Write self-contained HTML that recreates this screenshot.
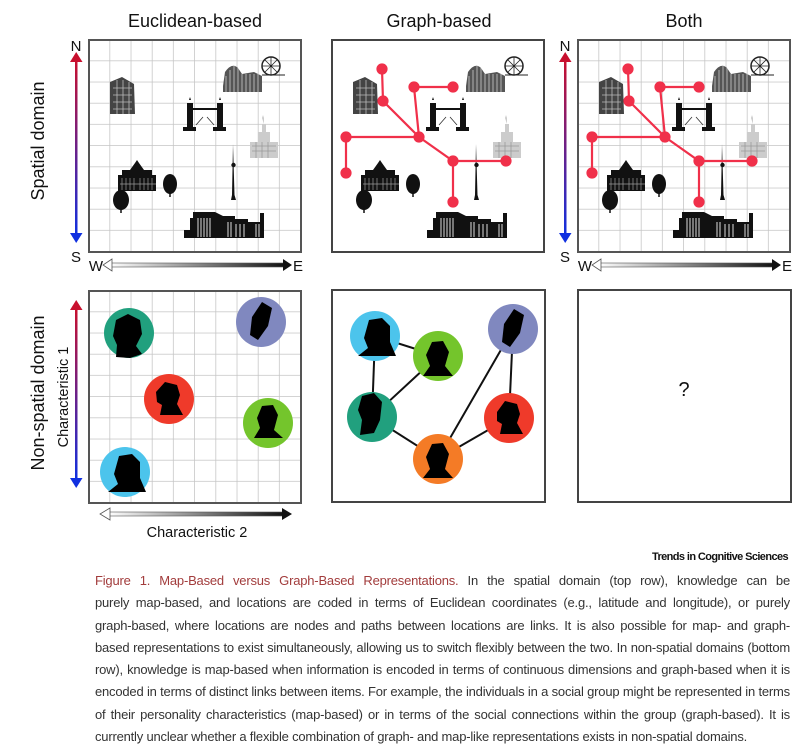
<!DOCTYPE html>
<html><head><meta charset="utf-8"><style>
html,body{margin:0;padding:0;background:#fff;width:798px;height:739px;overflow:hidden}
svg{position:absolute;left:0;top:0}
.cap{position:absolute;left:95px;top:570px;width:695px;font-family:"Liberation Sans",sans-serif;font-size:13px;letter-spacing:-0.2px;line-height:22.3px;color:#333;white-space:nowrap}
.cap div{text-align:justify;text-align-last:justify;width:695px;overflow:hidden}
.cap div.l{text-align-last:left}
.cap span{color:#a23c3c}
</style></head><body>
<svg width="798" height="739" viewBox="0 0 798 739" font-family="Liberation Sans, sans-serif">
<defs>
<pattern id="grid1" width="21.2" height="21.2" patternUnits="userSpaceOnUse" patternTransform="translate(89,40)">
<path d="M21.2 0V21.2M0 21.2H21.2" fill="none" stroke="#c4c4c4" stroke-width="1.5"/>
</pattern>
<pattern id="grid3" width="21.2" height="21.2" patternUnits="userSpaceOnUse" patternTransform="translate(578,40)">
<path d="M21.2 0V21.2M0 21.2H21.2" fill="none" stroke="#c4c4c4" stroke-width="1.5"/>
</pattern>
<pattern id="grid4" width="21.2" height="21.2" patternUnits="userSpaceOnUse" patternTransform="translate(89,291)">
<path d="M21.2 0V21.2M0 21.2H21.2" fill="none" stroke="#c4c4c4" stroke-width="1.5"/>
</pattern>
<linearGradient id="ns" x1="0" y1="0" x2="0" y2="1"><stop offset="0" stop-color="#c8102e"/><stop offset="1" stop-color="#1030e0"/></linearGradient>
<linearGradient id="we" x1="0" y1="0" x2="1" y2="0"><stop offset="0" stop-color="#fff"/><stop offset="1" stop-color="#111"/></linearGradient>
<g id="city">
<path d="M110 82 L122 77 L134 84 L135 114 L110 114Z" fill="#444"/>
<path d="M113 88H132M113 95H132M113 102H132M113 109H132M117 80V114M123 80V114M129 82V114" stroke="#bbb" stroke-width="0.8"/>
<path d="M223 86 L225 72 Q232 62 238 68 L242 74 L254 72 L262 76 L262 92 L223 92Z" fill="#555"/>
<path d="M226 76V92M230 70V92M234 66V92M238 68V92M242 74V92M246 74V92M250 74V92M254 74V92M258 74V92" stroke="#ccc" stroke-width="0.8"/>
<circle cx="271" cy="66" r="9" fill="none" stroke="#222" stroke-width="1.5"/>
<path d="M271 57V75M262 66H280M265 60L277 72M277 60L265 72" stroke="#222" stroke-width="0.8"/>
<path d="M262 75H285" stroke="#222" stroke-width="1"/>
<path d="M187 103h6v24h3v4h-13v-4h4z" fill="#111"/>
<path d="M217 103h6v24h3v4h-13v-4h4z" fill="#111"/>
<path d="M189 100l1-3 1 3zM219 100l1-3 1 3z" fill="#111"/>
<path d="M193 109H217" stroke="#111" stroke-width="2"/>
<path d="M196 125L203 117M214 125L207 117" stroke="#333" stroke-width="0.8"/>
<path d="M262 118l1 -3 1 3v6h2v8h4v10h8v16h-28v-16h8v-10h4v-8h2z" fill="#ccc"/>
<path d="M252 146h24M252 151h24M256 142v16M262 142v16M268 142v16" stroke="#999" stroke-width="0.8"/>
<path d="M233 144L234.5 195L236 200H231L232 195Z" fill="#111"/>
<circle cx="233.5" cy="165" r="2.2" fill="#111"/>
<path d="M118 175h4v-5h8l5-7 2-3 2 3 5 7h8v5h4v16h-38z" fill="#111"/>
<path d="M122 178v12M126 178v12M130 178v12M134 178v12M140 178v12M144 178v12M148 178v12M152 178v12M120 184h36" stroke="#999" stroke-width="0.7"/>
<ellipse cx="121" cy="200" rx="8" ry="10" fill="#111"/><path d="M121 205v8" stroke="#111" stroke-width="1.5"/>
<ellipse cx="170" cy="184" rx="7" ry="10" fill="#111"/><path d="M170 190v7" stroke="#111" stroke-width="1.5"/>
<path d="M184 230h6v-12h3v-6h22l8 4h12v3h13v3h12v-9h4v25h-80z" fill="#111"/>
<path d="M198 218v19M201 218v19M204 218v19M207 218v19M210 218v19M228 222v15M231 222v15M236 224v13M240 224v13M244 224v13M256 224v13M259 224v13" stroke="#ddd" stroke-width="1"/>
</g>
</defs>

<text x="195" y="27" font-size="18" text-anchor="middle" fill="#111">Euclidean-based</text>
<text x="439" y="27" font-size="18" text-anchor="middle" fill="#111">Graph-based</text>
<text x="684" y="27" font-size="18" text-anchor="middle" fill="#111">Both</text>
<text transform="translate(44,141) rotate(-90)" font-size="18" text-anchor="middle" fill="#111">Spatial domain</text>
<text transform="translate(44,393) rotate(-90)" font-size="18" text-anchor="middle" fill="#111">Non-spatial domain</text>

<rect x="89" y="40" width="212" height="212" fill="url(#grid1)"/>
<rect x="89" y="40" width="212" height="212" fill="none" stroke="#555" stroke-width="2"/>
<use href="#city"/>
<rect x="332" y="40" width="212" height="212" fill="#fff" stroke="#444" stroke-width="2"/>
<use href="#city" transform="translate(243,0)"/>
<rect x="578" y="40" width="212" height="212" fill="url(#grid3)"/>
<rect x="578" y="40" width="212" height="212" fill="none" stroke="#555" stroke-width="2"/>
<use href="#city" transform="translate(489,0)"/>

<g id="graph" stroke="#f0304a" stroke-width="2.2" fill="#f0304a">
<path d="M382 69L383 101L419 137M414 87H453M414 87L419 137M346 137H419V137M346 137V173M419 137L453 161H506M453 161V202" fill="none"/>
<circle cx="382" cy="69" r="4.5"/><circle cx="383" cy="101" r="4.5"/><circle cx="414" cy="87" r="4.5"/><circle cx="453" cy="87" r="4.5"/>
<circle cx="419" cy="137" r="4.5"/><circle cx="346" cy="137" r="4.5"/><circle cx="346" cy="173" r="4.5"/><circle cx="453" cy="161" r="4.5"/>
<circle cx="506" cy="161" r="4.5"/><circle cx="453" cy="202" r="4.5"/>
</g>
<use href="#graph" transform="translate(246,0)"/>

<g id="axes">
<rect x="75" y="60" width="2.5" height="175" fill="url(#ns)"/>
<path d="M70 62L76.2 52L82.5 62Z" fill="#c8102e"/>
<path d="M70 233L76.2 243L82.5 233Z" fill="#1030e0"/>
<text x="76" y="51" font-size="15" text-anchor="middle" fill="#111">N</text>
<text x="76" y="262" font-size="15" text-anchor="middle" fill="#111">S</text>
<rect x="110" y="263" width="175" height="4" fill="url(#we)" stroke="#555" stroke-width="0.6"/>
<path d="M112 259L103 265L112 271Z" fill="#fff" stroke="#555" stroke-width="0.8"/>
<path d="M283 259L292 265L283 271Z" fill="#111"/>
<text x="96" y="271" font-size="15" text-anchor="middle" fill="#111">W</text>
<text x="298" y="271" font-size="15" text-anchor="middle" fill="#111">E</text>
</g>
<use href="#axes" transform="translate(489,0)"/>

<rect x="89" y="291" width="212" height="212" fill="url(#grid4)"/>
<rect x="89" y="291" width="212" height="212" fill="none" stroke="#555" stroke-width="2"/>
<rect x="75" y="308" width="2.5" height="172" fill="url(#ns)"/>
<path d="M70 310L76.2 300L82.5 310Z" fill="#c8102e"/>
<path d="M70 478L76.2 488L82.5 478Z" fill="#1030e0"/>
<text transform="translate(68,397) rotate(-90)" font-size="14.5" text-anchor="middle" fill="#111">Characteristic 1</text>
<rect x="108" y="512" width="176" height="4" fill="url(#we)" stroke="#555" stroke-width="0.6"/>
<path d="M110 508L100 514L110 520Z" fill="#fff" stroke="#555" stroke-width="0.8"/>
<path d="M282 508L292 514L282 520Z" fill="#111"/>
<text x="197" y="537" font-size="14.5" text-anchor="middle" fill="#111">Characteristic 2</text>

<circle cx="129" cy="333" r="25" fill="#21a07e"/>
<circle cx="261" cy="322" r="25" fill="#8088bf"/>
<circle cx="169" cy="399" r="25" fill="#ef3a2a"/>
<circle cx="268" cy="423" r="25" fill="#74c52c"/>
<circle cx="125" cy="472" r="25" fill="#4cc4ec"/>

<rect x="332" y="290" width="213" height="212" fill="#fff" stroke="#444" stroke-width="2"/>
<path d="M375 336L438 356M375 336L372 417L438 356M372 417L438 459L513 329L509 418L438 459" fill="none" stroke="#111" stroke-width="2"/>
<circle cx="375" cy="336" r="25" fill="#4cc4ec"/>
<circle cx="438" cy="356" r="25" fill="#74c52c"/>
<circle cx="513" cy="329" r="25" fill="#8088bf"/>
<circle cx="372" cy="417" r="25" fill="#21a07e"/>
<circle cx="509" cy="418" r="25" fill="#ef3a2a"/>
<circle cx="438" cy="459" r="25" fill="#f47b26"/>

<g fill="#000">
<path d="M116 357 L117 345 L113 336 L116 320 L128 314 L140 320 L142 334 L136 346 L142 354 L130 358Z"/>
<path d="M250 335 L252 317 L262 302 L272 308 L268 326 L258 340Z"/>
<path d="M156 392 L165 382 L177 385 L180 395 L177 404 L183 415 L160 415 L162 405 L157 402Z"/>
<path d="M254 438 L260 428 L257 418 L262 406 L273 405 L278 415 L274 430 L283 438Z"/>
<path d="M108 492 L118 484 L114 474 L119 456 L132 454 L140 462 L140 478 L146 492Z"/>
<path d="M358 356 L368 348 L364 338 L369 320 L382 318 L390 326 L390 342 L396 356Z"/>
<path d="M423 376 L430 366 L426 355 L432 342 L443 341 L449 352 L445 366 L453 376Z"/>
<path d="M502 342 L504 324 L514 309 L524 315 L520 333 L510 347Z"/>
<path d="M360 435 L362 420 L358 410 L362 396 L374 393 L382 402 L380 420 L374 433Z"/>
<path d="M497 412 L505 401 L517 404 L520 414 L517 423 L523 434 L500 434 L502 424 L497 421Z"/>
<path d="M423 478 L430 469 L426 457 L432 444 L443 443 L449 454 L445 469 L453 478Z"/>
</g>

<rect x="578" y="290" width="213" height="212" fill="#fff" stroke="#444" stroke-width="2"/>
<text x="684" y="396" font-size="20" text-anchor="middle" fill="#111">?</text>

<text x="788" y="560" font-size="11" font-weight="bold" text-anchor="end" letter-spacing="-0.6" fill="#111">Trends in Cognitive Sciences</text>
</svg>
<div class="cap">
<div><span>Figure 1. Map-Based versus Graph-Based Representations.</span> In the spatial domain (top row), knowledge can be</div>
<div>purely map-based, and locations are coded in terms of Euclidean coordinates (e.g., latitude and longitude), or purely</div>
<div>graph-based, where locations are nodes and paths between locations are links. It is also possible for map- and graph-</div>
<div>based representations to exist simultaneously, allowing us to switch flexibly between the two. In non-spatial domains (bottom</div>
<div>row), knowledge is map-based when information is encoded in terms of continuous dimensions and graph-based when it is</div>
<div>encoded in terms of distinct links between items. For example, the individuals in a social group might be represented in terms</div>
<div>of their personality characteristics (map-based) or in terms of the social connections within the group (graph-based). It is</div>
<div class="l">currently unclear whether a flexible combination of graph- and map-like representations exists in non-spatial domains.</div>
</div>
</body></html>
